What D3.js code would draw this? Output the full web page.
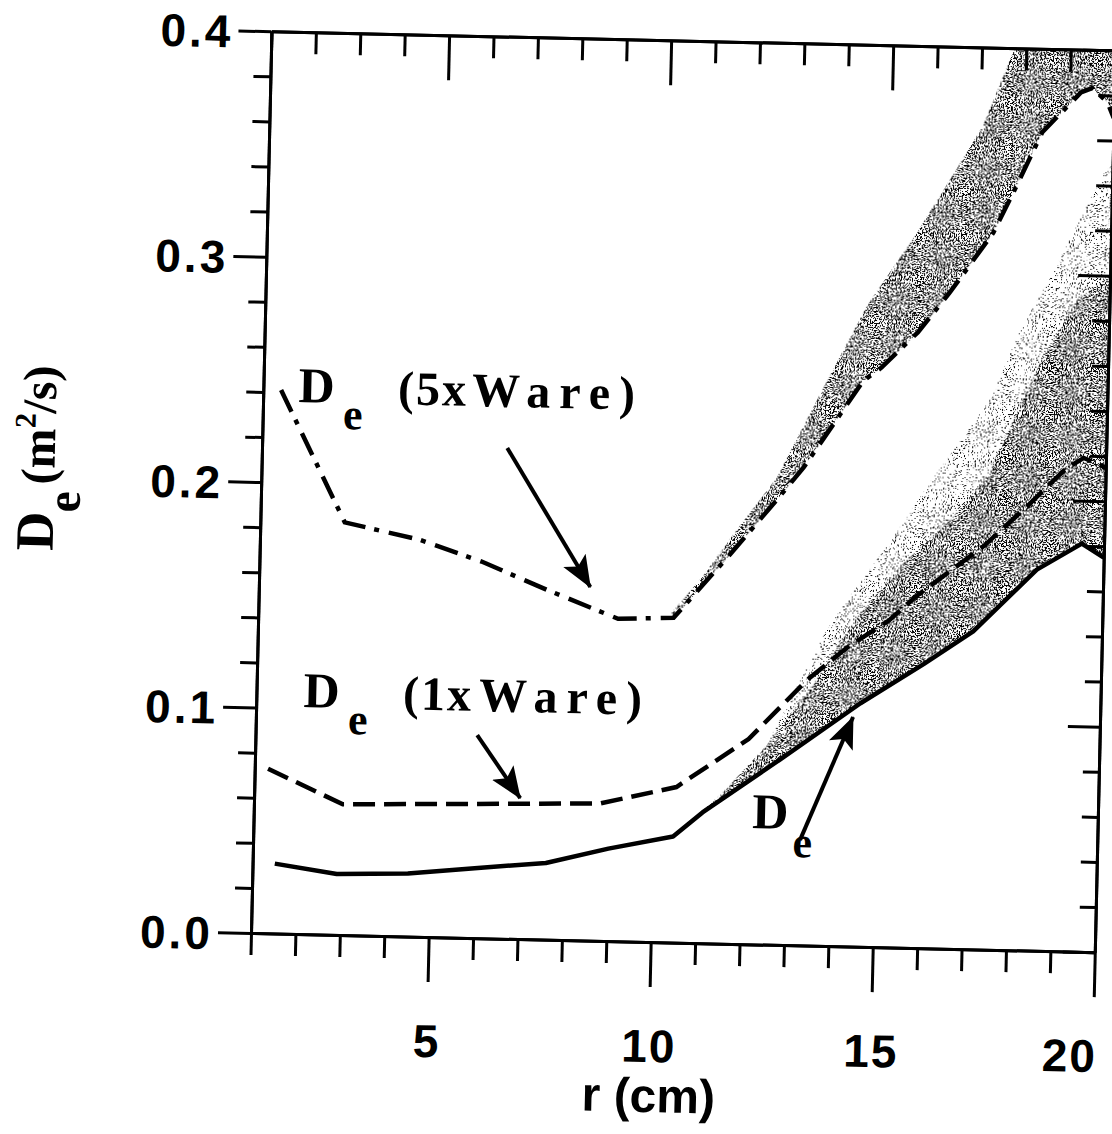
<!DOCTYPE html>
<html><head><meta charset="utf-8">
<script src="https://cdn.jsdelivr.net/npm/d3@7"></script>
<style>body{margin:0;background:#fff}</style>
</head><body>
<script>
// ---------- data ----------
const xMinorTicks = d3.range(1, 21);
const xMajorTicks = [5, 10, 15, 20];
const xTickLabels = ["5", "10", "15", "20"];
const yMinorTicks = d3.range(0, 21).map(i => +(i * 0.02).toFixed(2));
const yMajorTicks = [0, 0.1, 0.2, 0.3, 0.4];
const yTickLabels = ["0.0", "0.1", "0.2", "0.3", "0.4"];

// D_e (solid)
const deBase = [[1.5,0.031],[2.9,0.027],[4.5,0.028],[6.0,0.031],[7.6,0.034],[9.0,0.041],[10.45,0.047],[11.1,0.058],[12.8,0.082],[14.6,0.108],[16.0,0.126],[17.1,0.141],[18.5,0.169],[19.5,0.181],[20.0,0.175]];
// D_e (1xWare) dashed
const de1xWare = [[1.3,0.073],[3.0,0.058],[5.0,0.059],[7.0,0.060],[8.8,0.061],[10.5,0.069],[12.1,0.091],[13.4,0.118],[14.3,0.133],[15.2,0.145],[15.8,0.156],[17.3,0.179],[18.25,0.197],[19.1,0.214],[19.5,0.219],[20.0,0.215]];
// D_e (5xWare) dash-dot
const de5xWare = [[1.4,0.241],[2.9,0.183],[4.6,0.176],[6.0,0.167],[7.5,0.155],[9.1,0.143],[10.35,0.144],[11.6,0.173],[12.6,0.197],[13.2,0.212],[13.9,0.233],[14.5,0.251],[14.9,0.257],[15.7,0.273],[16.4,0.291],[17.35,0.318],[17.85,0.339],[18.4,0.363],[19.25,0.381],[19.5,0.383],[19.85,0.377],[20.0,0.370]];
// shaded uncertainty bands (upper edges)
const band5xUpper = [[10.3,0.146],[11.0,0.163],[11.6,0.180],[12.6,0.207],[13.47,0.242],[14.54,0.284],[15.63,0.317],[16.35,0.341],[17.06,0.365],[17.7,0.398],[18.2,0.43],[20.5,0.43]];
const band1xUpper = [[10.45,0.047],[11.5,0.066],[12.5,0.088],[13.5,0.115],[14.48,0.146],[15.42,0.169],[16.52,0.190],[17.25,0.207],[17.97,0.238],[18.5,0.262],[19.27,0.289],[20.0,0.300]];
const bandLightUpper = [[12.8,0.100],[13.8,0.140],[14.4,0.158],[15.2,0.180],[16.0,0.205],[16.6,0.222],[17.4,0.245],[18.0,0.275],[18.7,0.300],[19.3,0.325],[19.8,0.345],[20.5,0.360]];

// annotations (data coordinates)
const arrow5x = [[6.52,0.2176],[8.46,0.1568]];
const arrow1x = [[5.99,0.090],[6.99,0.0625]];
const arrowBase = [[13.31,0.0468],[14.44,0.1018]];
const label5xPos = [1.79,0.2359];
const label1xPos = [2.06,0.1007];
const labelBasePos = [12.22,0.0516];

// ---------- layout ----------
const W = 1112, H = 1134;
const L = 251, R = 1095, T = 31, B = 933;
const x = d3.scaleLinear().domain([1, 20]).range([L, R]);
const y = d3.scaleLinear().domain([0, 0.4]).range([B, T]);

const svg = d3.select("body").append("svg").attr("width", W).attr("height", H);
const defs = svg.append("defs");

function stipple(id, slope, offset, seed, freq) {
  const f = defs.append("filter").attr("id", id)
    .attr("filterUnits", "userSpaceOnUse").attr("x", -100).attr("y", -100)
    .attr("width", 1400).attr("height", 1400)
    .attr("color-interpolation-filters", "sRGB");
  f.append("feTurbulence").attr("type", "fractalNoise").attr("baseFrequency", freq)
    .attr("numOctaves", 2).attr("seed", seed).attr("result", "noise");
  f.append("feColorMatrix").attr("in", "noise").attr("type", "matrix")
    .attr("values", `0 0 0 0 0  0 0 0 0 0  0 0 0 0 0  ${slope} 0 0 0 ${offset}`).attr("result", "mask");
  f.append("feComposite").attr("in", "mask").attr("in2", "SourceGraphic").attr("operator", "in");
}
stipple("stipDense", 30, -15.2, 4, 0.75);
stipple("stipLight", 30, -18.8, 9, 0.75);

defs.append("clipPath").attr("id", "plotClip").append("rect")
  .attr("x", L).attr("y", T).attr("width", R - L).attr("height", B - T);

defs.append("marker").attr("id", "ahead").attr("markerUnits", "userSpaceOnUse")
  .attr("markerWidth", 34).attr("markerHeight", 28).attr("refX", 31).attr("refY", 13)
  .attr("orient", "auto")
  .append("path").attr("d", "M0,0 L32,13 L0,26 L7,13 Z").attr("fill", "#000");

const g = svg.append("g").attr("transform", "rotate(1.3," + L + "," + B + ")");

// ---------- bands ----------
const line = d3.line().x(d => x(d[0])).y(d => y(d[1]));
const polyPath = (upper, lower) => line(upper.concat(lower.slice().reverse())) + "Z";
const bands = g.append("g").attr("clip-path", "url(#plotClip)");
bands.append("path")
  .attr("d", polyPath(band5xUpper, de5xWare.filter(d => d[0] >= 10.3)))
  .attr("fill", "#000").attr("filter", "url(#stipDense)");
bands.append("path")
  .attr("d", polyPath(bandLightUpper, band1xUpper.filter(d => d[0] >= 12.5)))
  .attr("fill", "#000").attr("filter", "url(#stipLight)");
bands.append("path")
  .attr("d", polyPath(band1xUpper, deBase.filter(d => d[0] >= 10.45)))
  .attr("fill", "#000").attr("filter", "url(#stipDense)");

// ---------- curves ----------
const curves = g.append("g").attr("clip-path", "url(#plotClip)").attr("fill", "none").attr("stroke", "#000");
curves.append("path").attr("d", line(deBase)).attr("stroke-width", 4.5).attr("stroke-linejoin", "round");
curves.append("path").attr("d", line(de1xWare)).attr("stroke-width", 4.5).attr("stroke-dasharray", "22,9");
curves.append("path").attr("d", line(de5xWare)).attr("stroke-width", 4.5).attr("stroke-dasharray", "24,9,5,10");

// ---------- axes ----------
const sansFont = "'Liberation Sans', Arial, sans-serif";
function styleAxis(sel) {
  sel.select(".domain").attr("stroke", "#000").attr("stroke-width", 3);
  sel.selectAll(".tick line").attr("stroke", "#000").attr("stroke-width", 3);
}
const minorX = xMinorTicks.filter(v => !xMajorTicks.includes(v));
const minorY = yMinorTicks.filter(v => !yMajorTicks.some(m => Math.abs(m - v) < 1e-9));

// bottom
g.append("g").attr("transform", `translate(0,${B})`)
  .call(d3.axisBottom(x).tickValues(minorX).tickSize(22).tickSizeOuter(0).tickFormat("")).call(styleAxis);
const bx = g.append("g").attr("transform", `translate(0,${B})`)
  .call(d3.axisBottom(x).tickValues(xMajorTicks).tickSize(45).tickSizeOuter(0)
    .tickFormat((d, i) => xTickLabels[i])).call(styleAxis);
bx.selectAll("text").attr("y", 120).attr("dy", null)
  .attr("font-family", sansFont).attr("font-weight", "bold").attr("font-size", 46)
  .attr("letter-spacing", 2).attr("fill", "#000");
bx.selectAll(".tick").filter(d => d === 20).select("text").attr("text-anchor", "end").attr("x", 4);
// top
g.append("g").attr("transform", `translate(0,${T})`)
  .call(d3.axisTop(x).tickValues(minorX).tickSize(-22).tickSizeOuter(0).tickFormat("")).call(styleAxis);
g.append("g").attr("transform", `translate(0,${T})`)
  .call(d3.axisTop(x).tickValues(xMajorTicks).tickSize(-45).tickSizeOuter(0).tickFormat("")).call(styleAxis);
// left
g.append("g").attr("transform", `translate(${L},0)`)
  .call(d3.axisLeft(y).tickValues(minorY).tickSize(17).tickSizeOuter(0).tickFormat("")).call(styleAxis);
const ly = g.append("g").attr("transform", `translate(${L},0)`)
  .call(d3.axisLeft(y).tickValues(yMajorTicks).tickSize(33).tickSizeOuter(0)
    .tickFormat((d, i) => yTickLabels[i])).call(styleAxis);
ly.selectAll("text").attr("x", -38).attr("dy", "0.36em")
  .attr("font-family", sansFont).attr("font-weight", "bold").attr("font-size", 46)
  .attr("letter-spacing", 3).attr("fill", "#000");
// right
g.append("g").attr("transform", `translate(${R},0)`)
  .call(d3.axisRight(y).tickValues(minorY).tickSize(-16).tickSizeOuter(0).tickFormat("")).call(styleAxis);
g.append("g").attr("transform", `translate(${R},0)`)
  .call(d3.axisRight(y).tickValues(yMajorTicks).tickSize(-32).tickSizeOuter(0).tickFormat("")).call(styleAxis);

// ---------- axis titles ----------
g.append("text").attr("x", 652).attr("y", B + 170).attr("text-anchor", "middle")
  .attr("font-family", sansFont).attr("font-weight", "bold").attr("font-size", 48)
  .text("r (cm)");

const serif = "'Liberation Serif', 'Times New Roman', serif";
const yt = g.append("text").attr("transform", "translate(44,463) rotate(-90)")
  .attr("text-anchor", "middle").attr("font-family", serif).attr("font-weight", "bold");
yt.append("tspan").attr("font-size", 54).text("D");
yt.append("tspan").attr("font-size", 48).attr("dy", 26).text("e");
yt.append("tspan").attr("font-size", 48).attr("dx", 6).attr("dy", -26).text("(m");
yt.append("tspan").attr("font-size", 30).attr("dy", -20).text("2");
yt.append("tspan").attr("font-size", 48).attr("dy", 20).text("/s)");

// ---------- annotations ----------
function wareLabel(pos, mult, eDx, parenDx, wDx) {
  const t = g.append("text").attr("x", x(pos[0])).attr("y", y(pos[1]))
    .attr("font-family", serif).attr("font-weight", "bold").attr("fill", "#000");
  t.append("tspan").attr("font-size", 50).text("D");
  t.append("tspan").attr("font-size", 44).attr("dx", eDx).attr("dy", 26).text("e");
  t.append("tspan").attr("font-size", 48).attr("dx", parenDx).attr("dy", -26).attr("letter-spacing", 2).text("(" + mult + "x");
  t.append("tspan").attr("font-size", 48).attr("dx", wDx).attr("letter-spacing", 9).text("Ware)");
}
wareLabel(label5xPos, "5", 9, 35, 4);
wareLabel(label1xPos, "1", 9, 35, 6);
const lb = g.append("text").attr("x", x(labelBasePos[0])).attr("y", y(labelBasePos[1]))
  .attr("font-family", serif).attr("font-weight", "bold").attr("fill", "#000");
lb.append("tspan").attr("font-size", 50).text("D");
lb.append("tspan").attr("font-size", 44).attr("dx", 5).attr("dy", 28).text("e");

const arrows = g.append("g").attr("stroke", "#000").attr("stroke-width", 4).attr("fill", "none");
[arrow5x, arrow1x, arrowBase].forEach(a => {
  arrows.append("path").attr("d", line(a)).attr("marker-end", "url(#ahead)");
});
</script>
</body></html>
